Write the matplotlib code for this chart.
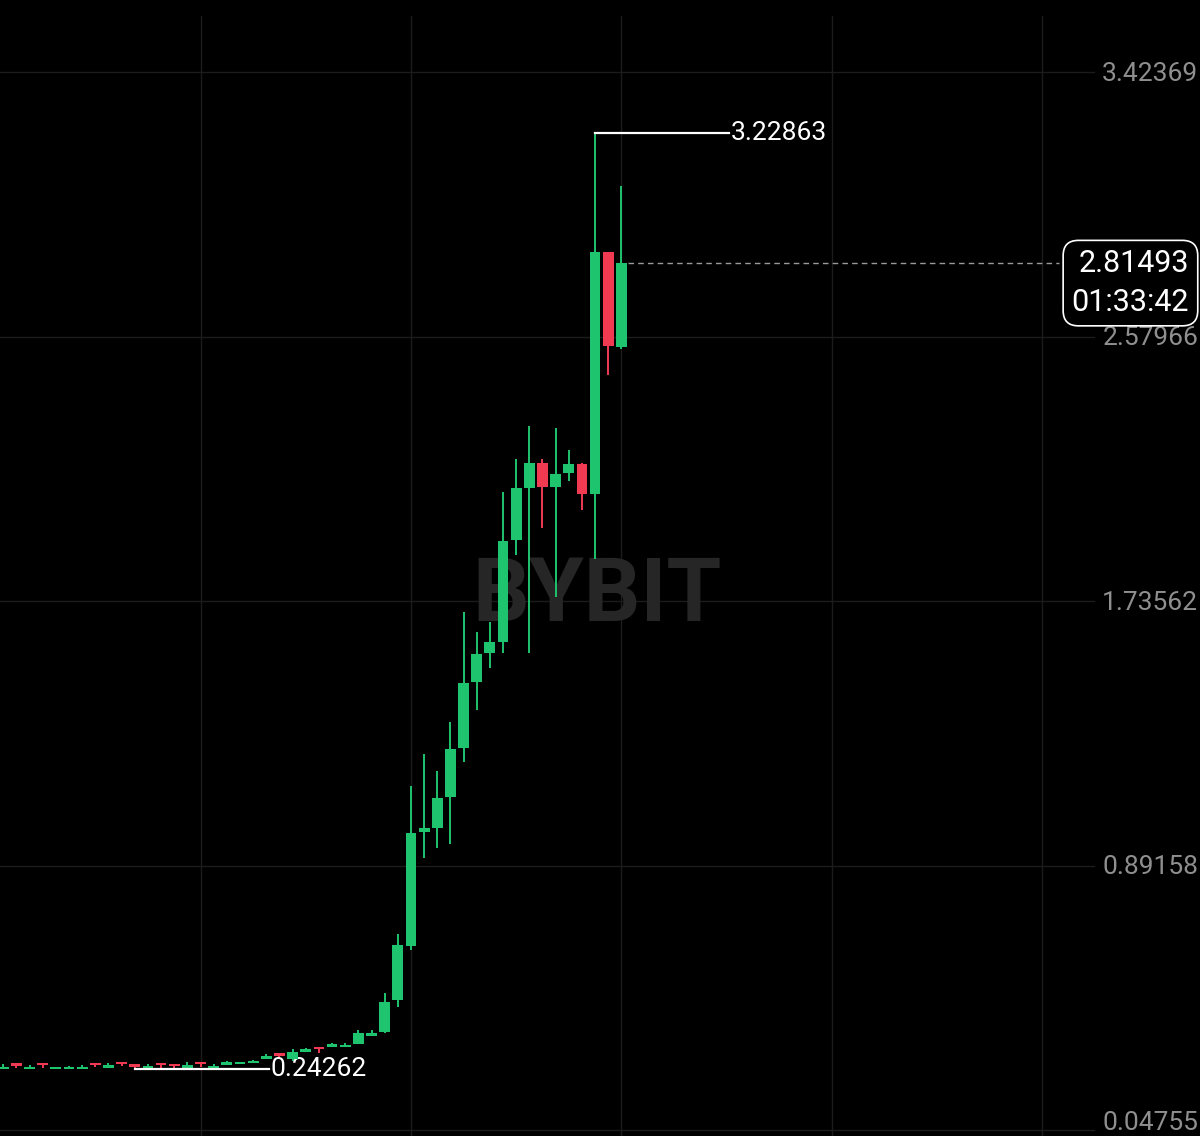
import numpy as np
import matplotlib
matplotlib.use('Agg')
from matplotlib import pyplot as plt
from matplotlib import transforms

plt.rcParams['font.family'] = ['Roboto', 'DejaVu Sans']

# candle values (oldest first)
opens = [0.2432, 0.2612, 0.2432, 0.2631, 0.2432, 0.2434, 0.2432, 0.2631, 0.2471, 0.2663,
         0.2580, 0.2440, 0.2631, 0.2590, 0.2440, 0.2654, 0.2471, 0.2568, 0.2590, 0.2612,
         0.2740, 0.2931, 0.2740, 0.2973, 0.3142, 0.3123, 0.3123, 0.3228, 0.3493, 0.3621,
         0.4632, 0.6355, 0.9993, 1.0111, 1.1100, 1.2663, 1.4769, 1.5695, 1.6055, 1.9310,
         2.0979, 2.1757, 2.1010, 2.1438, 2.1735, 2.0778, 2.8509, 2.5478]
highs = [0.2580, 0.2612, 0.2548, 0.2631, 0.2503, 0.2540, 0.2558, 0.2631, 0.2612, 0.2663,
         0.2580, 0.2580, 0.2631, 0.2590, 0.2654, 0.2654, 0.2590, 0.2686, 0.2660, 0.2727,
         0.2899, 0.2931, 0.3059, 0.3100, 0.3142, 0.3270, 0.3251, 0.3675, 0.3675, 0.4865,
         0.6729, 1.1460, 1.2482, 1.1939, 1.3512, 1.7022, 1.6365, 1.6703, 2.0851, 2.1885,
         2.2957, 2.1885, 2.2893, 2.2182, 2.1776, 3.22863, 2.8509, 3.0615]
lows = [0.2432, 0.2452, 0.2432, 0.2471, 0.2432, 0.2434, 0.2432, 0.2503, 0.2471, 0.2525,
        0.24262, 0.2440, 0.2471, 0.2452, 0.2440, 0.2493, 0.2471, 0.2568, 0.2590, 0.2612,
        0.2740, 0.2740, 0.2686, 0.2973, 0.2950, 0.3123, 0.3123, 0.3228, 0.3493, 0.3589,
        0.4418, 0.6228, 0.9163, 0.9473, 0.9610, 1.2217, 1.3885, 1.5216, 1.5695, 1.8831,
        1.5695, 1.9702, 1.7501, 2.1202, 2.0267, 1.8694, 2.4575, 2.5395]
closes = [0.2503, 0.2535, 0.2503, 0.2558, 0.2500, 0.2503, 0.2503, 0.2558, 0.2548, 0.2590,
          0.2503, 0.2516, 0.2558, 0.2516, 0.2548, 0.2580, 0.2535, 0.2644, 0.2654, 0.2686,
          0.2855, 0.2845, 0.2982, 0.3059, 0.3059, 0.3219, 0.3196, 0.3570, 0.3570, 0.4578,
          0.6387, 0.9970, 1.0120, 1.1087, 1.2641, 1.4757, 1.5663, 1.6046, 1.9287, 2.0969,
          2.1757, 2.1010, 2.1406, 2.1725, 2.0778, 2.8509, 2.5500, 2.81493]

price_levels = [0.04755, 0.89158, 1.73562, 2.57966, 3.42369]
countdown = '01:33:42'

green = '#1fc46f'
red = '#f03a52'

o = np.array(opens)
h = np.array(highs)
l = np.array(lows)
c = np.array(closes)
x = np.arange(len(o))
up = c >= o
cols = np.where(up, green, red)

fig = plt.figure(figsize=(12, 11.36), dpi=100, facecolor='black')
ax = fig.add_axes([0, 0, 1, 1])
ax.set_facecolor('black')
ax.set_xlim(-0.25, 91.0)
ax.set_ylim(0.0293, 3.654)
ax.axis('off')

# grid
for gx in np.arange(15, 91, 16):
    ax.axvline(gx, ymax=0.986, color='#1c1c1c', lw=1, zorder=0)
for v in price_levels:
    ax.axhline(v, xmax=0.912, color='#1c1c1c', lw=1, zorder=0)

# watermark
ax.text(0.4975, 0.4745, 'BYBIT', transform=ax.transAxes, ha='center', va='center',
        fontsize=64, fontweight='bold', color='#262626', zorder=1)

# candles
ax.vlines(x, l, h, colors=cols, lw=1.4, zorder=3)
body = np.maximum(np.abs(c - o), 0.007)
ax.bar(x, body, bottom=np.minimum(o, c), width=0.82, color=cols, zorder=4)

# price labels (lowest one nudged up so it stays inside the picture)
trans = transforms.blended_transform_factory(ax.transAxes, ax.transData)
for i, v in enumerate(price_levels):
    dy = 5 if i == 0 else -1
    ax.annotate(f'{v:.5f}', xy=(0.9985, v), xycoords=trans, xytext=(0, dy),
                textcoords='offset points', ha='right', va='center',
                fontsize=19, color='#8f8f8f')

# max / min markers
i_hi = int(np.argmax(h))
i_lo = int(np.argmin(l))
ax.plot([i_hi, i_hi + 10.2], [h[i_hi], h[i_hi]], color='white', lw=1.6, zorder=5)
ax.text(i_hi + 10.35, h[i_hi], f'{h[i_hi]:.5f}', ha='left', va='center',
        fontsize=19, color='white')
ax.plot([i_lo, i_lo + 10.2], [l[i_lo], l[i_lo]], color='white', lw=1.6, zorder=5)
ax.text(i_lo + 10.35, l[i_lo], f'{l[i_lo]:.5f}', ha='left', va='center',
        fontsize=19, color='white')

# last price line and box
last = c[-1]
ax.plot([x[-1] + 0.5, 80.3], [last, last], color='#9a9a9a', lw=1,
        dashes=(4, 3), zorder=2)
ax.annotate(f'{last:.5f}\n{countdown}', xy=(0.991, last), xycoords=trans,
            xytext=(0, -14.5), textcoords='offset points', ha='right', va='center',
            fontsize=22, color='white', linespacing=1.45, multialignment='right',
            bbox=dict(boxstyle='round,pad=0.28,rounding_size=0.5', fc='black',
                      ec='white', lw=1.2), zorder=6)

fig.savefig('out.png', dpi=100, facecolor='black')
